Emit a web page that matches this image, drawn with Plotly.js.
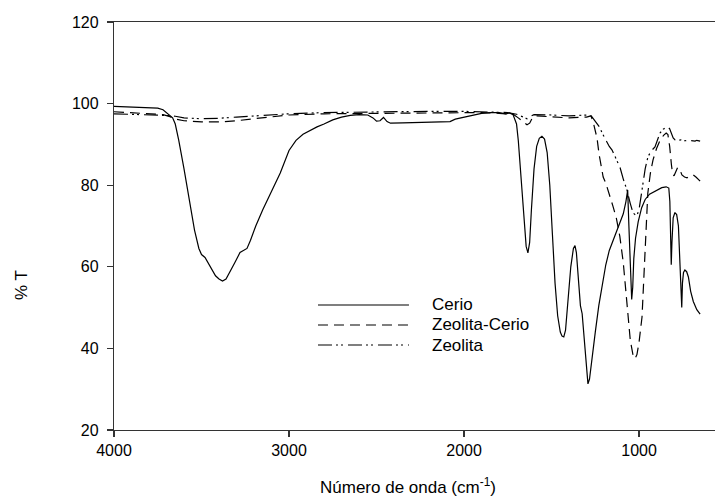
<!DOCTYPE html>
<html>
<head>
<meta charset="utf-8">
<script src="https://cdn.plot.ly/plotly-3.0.1.min.js"></script>
<style>html,body{margin:0;padding:0;background:#fff;}#chart{width:715px;height:498px;}</style>
</head>
<body>
<div id="chart"></div>
<script>
var seriesNames = ["Cerio", "Zeolita-Cerio", "Zeolita"];

var cerioWn = [4000,3900,3800,3750,3720,3700,3680,3665,3650,3630,3600,3570,3540,3515,3500,3480,3460,3440,3420,3400,3380,3360,3340,3310,3280,3260,3240,3220,3190,3150,3100,3050,3000,2960,2920,2880,2840,2800,2750,2700,2650,2600,2550,2520,2500,2480,2460,2440,2420,2350,2250,2150,2080,2050,2000,1950,1900,1850,1800,1760,1740,1720,1700,1690,1675,1660,1645,1635,1625,1615,1600,1585,1570,1555,1540,1525,1510,1495,1480,1465,1450,1440,1430,1420,1405,1390,1375,1366,1358,1345,1335,1325,1310,1300,1292,1283,1270,1250,1230,1210,1190,1170,1140,1110,1090,1075,1065,1058,1050,1042,1036,1030,1020,1005,985,965,940,900,870,845,830,824,819,816,812,805,795,785,775,768,760,756,752,746,738,728,718,705,690,670,651];
var cerioT = [99.3,99.2,99.0,98.9,98.5,97.8,97.0,96.5,95,91,84,76,69,64.5,63,62.3,60.8,59,57.8,57,56.5,57,58.5,61,63.5,64,64.5,66.5,70,74,78.5,83,88.5,91,92.5,93.5,94.3,95,96,96.7,97.1,97.3,97.2,96.5,95.7,95.8,96.6,95.6,95.2,95.3,95.4,95.5,95.6,96.2,96.7,97.2,97.6,97.8,97.8,97.5,97.7,97.3,95,91,82,72,65,63.4,66,74,84,89.5,91.5,92,91.3,88,80,68,56,48,44,43,42.8,44.5,52,60,64.5,65.2,63.5,56,50.5,48.5,40,34,31.3,32.5,37.5,44,50.5,56,60.5,64,67.5,70.5,73,76,78.8,70,60,52,55,62,67,71,74.5,76.5,77.8,78.8,79.4,79.6,79.3,76,65,60.5,66,72,73.3,72.8,70,62,51,50,56,58.6,59.2,58.8,57.5,54,51.5,49.5,48.4];

var zcWn = [4000,3900,3800,3720,3680,3650,3600,3500,3400,3300,3200,3100,3000,2800,2600,2400,2200,2000,1900,1800,1720,1690,1660,1640,1625,1610,1590,1500,1400,1300,1275,1262,1250,1240,1228,1215,1205,1190,1170,1150,1130,1110,1090,1075,1063,1050,1035,1023,1012,1000,983,970,962,950,935,920,900,880,860,845,835,825,815,808,800,792,780,768,755,740,726,712,700,690,675,663,651];
var zcT = [98.0,97.8,97.6,97.3,96.8,96.2,95.8,95.5,95.5,95.8,96.3,96.8,97.2,97.5,97.6,97.7,97.8,97.8,97.8,97.6,97.4,96.5,95.5,94.8,95.2,96.5,97,96.8,96.5,96.7,97,95.5,93.5,91.5,87.5,84,82,80.5,78,75,72,67.5,61,54,47.7,42,38.5,37.5,38.5,41.5,47.7,60,69,78,83,86.2,89,91,92.2,92.8,92.4,89.5,85,82.8,82.3,83,84.3,84,82.5,82,81.8,82.2,82.4,82.5,82,81.5,81];

var zeoWn = [4000,3900,3800,3700,3650,3600,3500,3400,3300,3200,3000,2800,2500,2200,2000,1850,1750,1700,1670,1640,1620,1600,1500,1400,1300,1285,1270,1255,1240,1225,1211,1190,1170,1154,1130,1109,1090,1069,1050,1034,1020,1011,1000,983,965,949,930,909,895,880,860,845,834,825,815,805,794,780,760,740,720,700,680,670,660,651];
var zeoT = [97.5,97.4,97.3,97.1,96.9,96.5,96.3,96.4,96.7,97.0,97.5,97.8,98.0,98.1,98.1,98.0,97.8,97.4,96.8,96.3,96.9,97.3,97.2,97.0,97.2,97.4,96.8,96,95.2,94.2,92.8,91,89.5,88.6,86.5,84.4,81.5,78.8,75.5,73.2,72.7,72.7,74,78.8,84,87,88.4,89.4,91,92.8,93.8,94.2,94.3,93.8,92.5,91.6,91.1,91,91.1,90.9,91.0,90.9,90.8,91.0,90.9,90.8];

var xTicks = [4000, 3000, 2000, 1000];
var yTicks = [20, 40, 60, 80, 100, 120];

var FONT = "Liberation Sans, Arial, sans-serif";
var dashes = ["solid", "10px,6px", "14px,4px,2px,3px,2px,5px"];
var xs = [cerioWn, zcWn, zeoWn];
var ys = [cerioT, zcT, zeoT];

var traces = seriesNames.map(function (n, i) {
  return {
    x: xs[i], y: ys[i], name: n, type: "scatter", mode: "lines",
    line: {color: "#000", width: 1.2, dash: dashes[i]},
    showlegend: false, hoverinfo: "skip"
  };
});

// manual legend (long line samples as in the reference)
var legRows = [0.3064, 0.2574, 0.2083];
var shapes = [];
var annotations = [];
seriesNames.forEach(function (n, i) {
  shapes.push({type: "line", xref: "paper", yref: "paper",
    x0: 0.3394, x1: 0.4908, y0: legRows[i], y1: legRows[i],
    line: {color: "#000", width: 1.2, dash: dashes[i]}});
  annotations.push({xref: "paper", yref: "paper", x: 0.526, y: legRows[i],
    xanchor: "left", yanchor: "middle", showarrow: false, text: n,
    font: {family: FONT, size: 17, color: "#000"}});
});
annotations.push({xref: "paper", yref: "paper", x: 0.489, y: -0.137,
  xanchor: "center", yanchor: "middle", showarrow: false,
  text: "Número de onda (cm<sup>-1</sup>)", font: {family: FONT, size: 17, color: "#000"}});
annotations.push({xref: "paper", yref: "paper", x: -0.155, y: 0.355,
  xanchor: "center", yanchor: "middle", showarrow: false, textangle: -90,
  text: "% T", font: {family: FONT, size: 17, color: "#000"}});

var layout = {
  width: 715, height: 498,
  margin: {l: 114, r: 0, t: 22, b: 68, pad: 0},
  paper_bgcolor: "#fff", plot_bgcolor: "#fff",
  font: {family: FONT, size: 16, color: "#000"},
  xaxis: {
    range: [4000, 566], tickvals: xTicks, ticktext: xTicks.map(String),
    showgrid: false, zeroline: false, showline: true, mirror: true,
    linecolor: "#333", linewidth: 1.2, ticks: "outside", ticklen: 6, tickwidth: 1.2, tickcolor: "#333",
    tickfont: {family: FONT, size: 16, color: "#000"}
  },
  yaxis: {
    range: [20, 120], tickvals: yTicks, ticktext: yTicks.map(String),
    showgrid: false, zeroline: false, showline: true, mirror: false,
    linecolor: "#333", linewidth: 1.2, ticks: "outside", ticklen: 6, tickwidth: 1.2, tickcolor: "#333",
    ticklabelstandoff: 5,
    tickfont: {family: FONT, size: 16, color: "#000"}
  },
  shapes: shapes,
  annotations: annotations,
  showlegend: false
};

Plotly.newPlot("chart", traces, layout, {staticPlot: true, displayModeBar: false});
</script>
</body>
</html>
